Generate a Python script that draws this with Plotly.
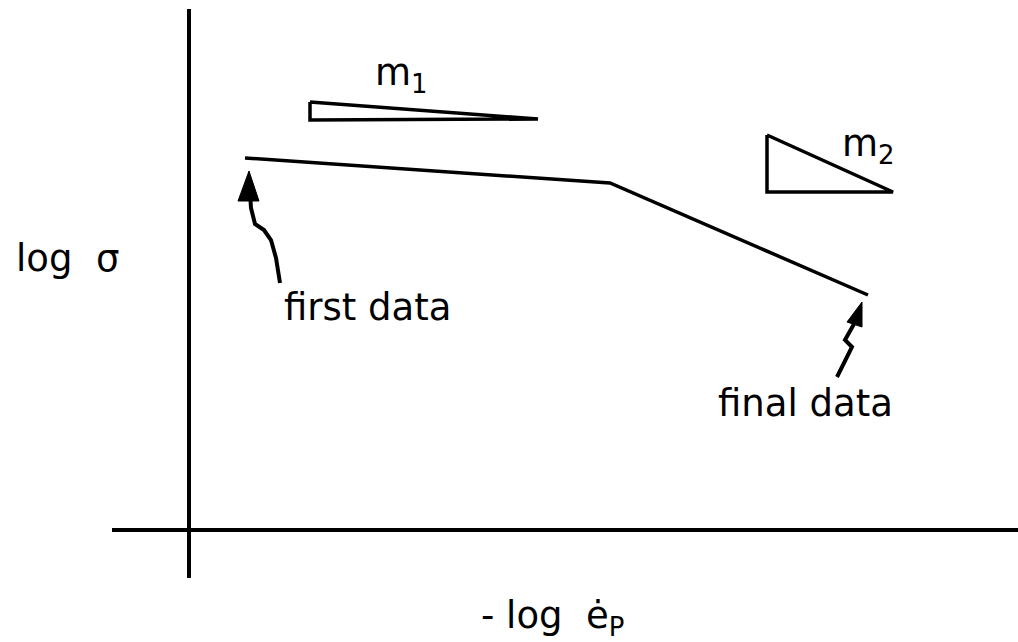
import plotly.graph_objects as go

# Schematic: log stress vs -log plastic strain rate, two slopes m1 and m2
# Coordinates are in arbitrary schematic units with the axis origin at (0, 0).

# Axes
axis_v_x = [0, 0]
axis_v_y = [521, -48]
axis_h_x = [-77, 829]
axis_h_y = [0, 0]

# Bilinear stress curve (first data -> knee -> final data)
curve_x = [56, 421, 679]
curve_y = [372, 347, 235]

# Slope indicator triangles
m1_x = [121, 121, 349, 121]
m1_y = [428, 410, 411, 428]
m2_x = [578, 578, 704, 578]
m2_y = [395, 338, 338, 395]

# Pointer arrows (wavy shafts and heads)
arrow1_x = [91, 87, 82, 75, 66, 62, 61]
arrow1_y = [247, 272, 290, 300, 306, 322, 338]
head1_x = [60, 49, 70, 60]
head1_y = [359, 329, 329, 359]
arrow2_x = [648, 663, 656, 665]
arrow2_y = [153, 183, 190, 206]
head2_x = [673, 658, 673, 673]
head2_y = [228, 208, 203, 228]

# Labels
labels = ["m<sub>1</sub>", "m<sub>2</sub>", "first data", "final data",
          "log  σ", "- log  ė<sub>P</sub>"]
label_x = [212, 679, 178, 616, -122, 363]
label_y = [455, 384, 223, 127, 272, -88]

ink = "black"
fig = go.Figure()

def line(x, y, w):
    fig.add_trace(go.Scatter(x=x, y=y, mode="lines",
                             line=dict(color=ink, width=w),
                             hoverinfo="skip", showlegend=False))

def head(x, y):
    fig.add_trace(go.Scatter(x=x, y=y, mode="lines", fill="toself",
                             fillcolor=ink, line=dict(color=ink, width=1),
                             hoverinfo="skip", showlegend=False))

line(axis_v_x, axis_v_y, 4)
line(axis_h_x, axis_h_y, 4)
line(curve_x, curve_y, 3.5)
line(m1_x, m1_y, 3.5)
line(m2_x, m2_y, 3.5)
line(arrow1_x, arrow1_y, 4)
line(arrow2_x, arrow2_y, 4)
head(head1_x, head1_y)
head(head2_x, head2_y)

for t, x, y in zip(labels, label_x, label_y):
    fig.add_annotation(x=x, y=y, text=t, showarrow=False,
                       xanchor="center", yanchor="middle",
                       font=dict(family="DejaVu Sans", size=37, color=ink))

fig.update_layout(
    width=1018, height=642,
    margin=dict(l=0, r=0, t=0, b=0),
    paper_bgcolor="white", plot_bgcolor="white",
    xaxis=dict(range=[-189, 829], visible=False, fixedrange=True),
    yaxis=dict(range=[-112, 530], visible=False, fixedrange=True),
)

fig.write_html("out.html")
